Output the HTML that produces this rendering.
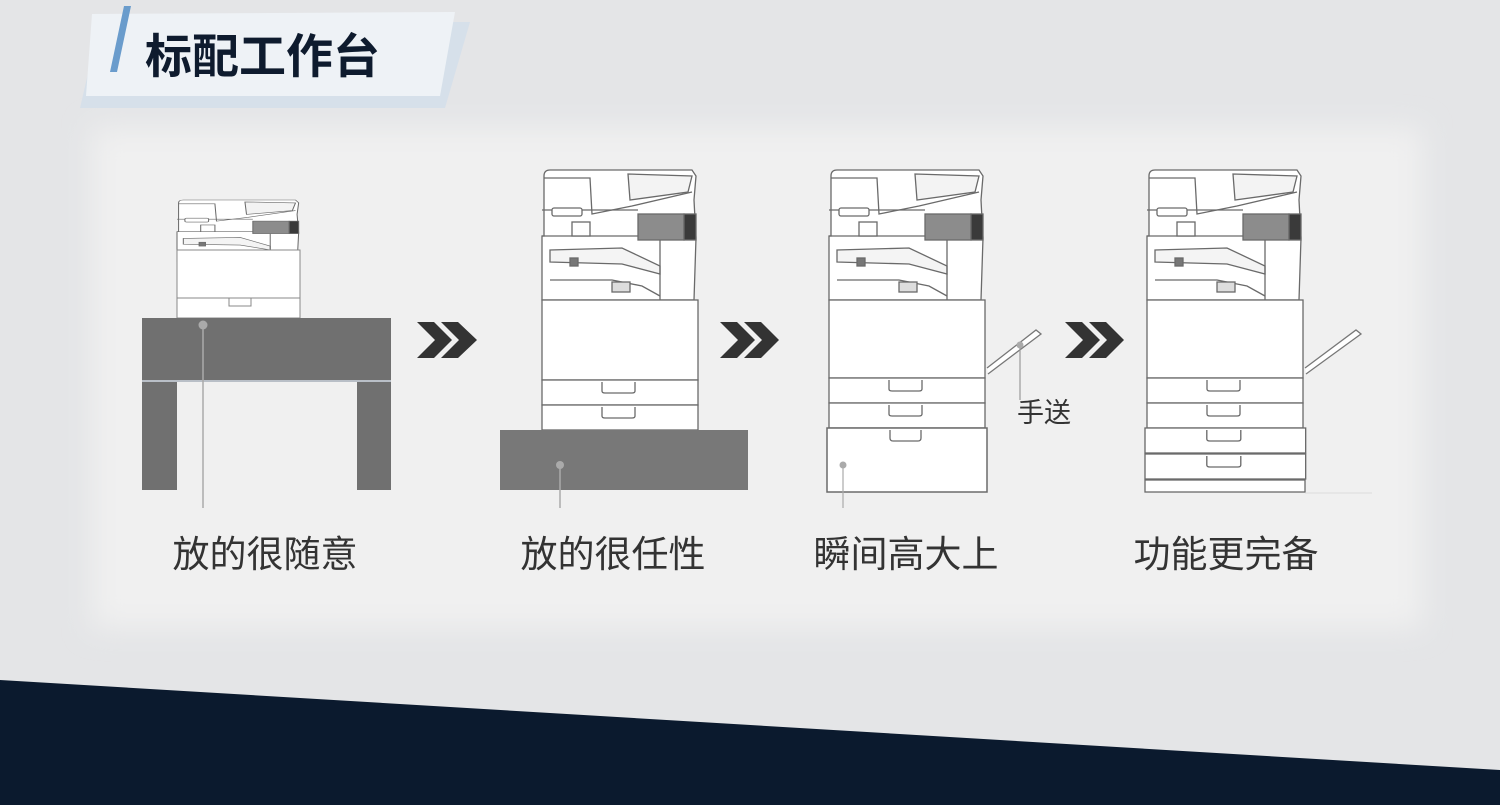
<!DOCTYPE html>
<html><head><meta charset="utf-8"><style>
html,body{margin:0;padding:0;width:1500px;height:805px;overflow:hidden;background:#e4e5e7;}
svg{display:block}
text{font-family:"Liberation Sans","Noto Sans CJK SC",sans-serif;}
</style></head><body>
<svg width="1500" height="805" viewBox="0 0 1500 805" xmlns="http://www.w3.org/2000/svg">
<defs>
<filter id="blur" x="-10%" y="-10%" width="120%" height="120%"><feGaussianBlur stdDeviation="14"/></filter>
<g id="top" fill="#fff" stroke="#6a6a6a" stroke-width="1.3">
  <path d="M2,6 Q2,0 8,0 L150,0 L154,6 L152,30 L154,68 L152,130 L0,130 L0,66 L2,66 Z"/>
  <path d="M2,8 L48,8 L50,44 L90,36 L150,22" fill="none"/>
  <path d="M86,4 L150,6 L146,22 L88,30 Z" fill="#f3f3f3"/>
  <line x1="0" y1="40" x2="96" y2="40"/>
  <rect x="10" y="38" width="30" height="8" rx="2"/>
  <line x1="0" y1="66" x2="154" y2="66"/>
  <rect x="30" y="52" width="18" height="14"/>
  <rect x="96" y="44" width="46" height="26" fill="#8c8c8c"/>
  <rect x="142" y="44" width="12" height="26" fill="#3a3a3a"/>
  <path d="M8,80 L80,78 L118,96 L118,104 L80,94 L8,92 Z" fill="#f4f4f4"/>
  <path d="M8,110 L70,110 L100,116 L118,126" fill="none"/>
  <rect x="28" y="88" width="8" height="8" fill="#777"/>
  <rect x="70" y="112" width="18" height="10" fill="#ddd"/>
  <line x1="118" y1="70" x2="118" y2="130"/>
</g>
<g id="drawer" fill="#fff" stroke="#6a6a6a" stroke-width="1.3">
  <rect x="0" y="0" width="156" height="25"/>
  <path d="M60,2 L60,11 Q60,13 63,13 L90,13 Q93,13 93,11 L93,2" fill="none"/>
</g>
</defs>

<rect x="92" y="128" width="1330" height="500" fill="#f0f0f0" filter="url(#blur)"/>

<polygon points="100,22 470,22 445,108 80,108" fill="#d6e0ea"/>
<polygon points="92,14 455,12 440,96 86,96" fill="#eef2f6"/>
<polygon points="124,6 131,6 117,72 110,72" fill="#6a9ccc"/>
<text x="145" y="73" font-size="47" font-weight="bold" fill="#0e1b2e">标配工作台</text>

<polygon points="0,680 1500,770 1500,805 0,805" fill="#0b1a2e"/>

<g transform="translate(177,200) scale(0.79,0.48)"><use href="#top"/></g>
<rect x="177" y="250" width="123" height="68" fill="#fff" stroke="#888" stroke-width="1"/>
<line x1="177" y1="298" x2="300" y2="298" stroke="#888"/>
<rect x="229" y="298" width="22" height="8" fill="#fff" stroke="#888"/>
<rect x="142" y="318" width="249" height="62" fill="#707070"/>
<rect x="142" y="382" width="35" height="108" fill="#707070"/>
<rect x="357" y="382" width="34" height="108" fill="#707070"/>
<line x1="142" y1="381" x2="391" y2="381" stroke="#b9bfc7" stroke-width="2"/>
<line x1="203" y1="325" x2="203" y2="508" stroke="#aaa" stroke-width="1.5"/>
<circle cx="203" cy="325" r="4.5" fill="#aaa"/>

<use href="#top" transform="translate(542,170)"/>
<rect x="542" y="300" width="156" height="80" fill="#fff" stroke="#6a6a6a" stroke-width="1.3"/>
<use href="#drawer" transform="translate(542,380)"/>
<use href="#drawer" transform="translate(542,405)"/>
<rect x="500" y="430" width="248" height="60" fill="#787878"/>
<line x1="560" y1="465" x2="560" y2="508" stroke="#aaa" stroke-width="1.5"/>
<circle cx="560" cy="465" r="4" fill="#aaa"/>

<use href="#top" transform="translate(829,170)"/>
<rect x="829" y="300" width="156" height="78" fill="#fff" stroke="#6a6a6a" stroke-width="1.3"/>
<use href="#drawer" transform="translate(829,378)"/>
<use href="#drawer" transform="translate(829,403)"/>
<rect x="827" y="428" width="160" height="64" fill="#fff" stroke="#6a6a6a" stroke-width="1.5"/>
<path d="M890,430 L890,438 Q890,441 893,441 L918,441 Q921,441 921,438 L921,430" fill="none" stroke="#6a6a6a" stroke-width="1.3"/>
<path d="M987,368 L1036,330 L1041,334 L988,374" fill="#fff" stroke="#777" stroke-width="1.3"/>
<line x1="1020" y1="345" x2="1020" y2="400" stroke="#999" stroke-width="1.2"/>
<circle cx="1020" cy="345" r="3.5" fill="#aaa"/>
<text x="1017" y="422" font-size="27" fill="#333">手送</text>
<line x1="843" y1="465" x2="843" y2="508" stroke="#aaa" stroke-width="1.2"/>
<circle cx="843" cy="465" r="3.5" fill="#aaa"/>

<use href="#top" transform="translate(1147,170)"/>
<rect x="1147" y="300" width="156" height="78" fill="#fff" stroke="#6a6a6a" stroke-width="1.3"/>
<use href="#drawer" transform="translate(1147,378)"/>
<use href="#drawer" transform="translate(1147,403)"/>
<use href="#drawer" transform="translate(1145,428) scale(1.03,1)"/>
<use href="#drawer" transform="translate(1145,454) scale(1.03,1)"/>
<rect x="1145" y="480" width="160" height="12" fill="#fff" stroke="#6a6a6a" stroke-width="1.3"/>
<line x1="1305" y1="493" x2="1372" y2="493" stroke="#ddd"/>
<path d="M1305,368 L1356,330 L1361,334 L1306,374" fill="#fff" stroke="#777" stroke-width="1.3"/>

<g fill="#333">
<path d="M417,322 L434,322 L452,340 L434,358 L417,358 L435,340 Z"/>
<path d="M441,322 L458,322 L477,340 L458,358 L441,358 L459,340 Z"/>
<path d="M720,322 L737,322 L755,340 L737,358 L720,358 L738,340 Z"/>
<path d="M744,322 L761,322 L779,340 L761,358 L744,358 L762,340 Z"/>
<path d="M1065,322 L1082,322 L1100,340 L1082,358 L1065,358 L1083,340 Z"/>
<path d="M1089,322 L1106,322 L1124,340 L1106,358 L1089,358 L1107,340 Z"/>
</g>

<g font-size="37" fill="#333" text-anchor="middle">
<text x="265" y="567">放的很随意</text>
<text x="613" y="567">放的很任性</text>
<text x="906" y="567">瞬间高大上</text>
<text x="1226" y="567">功能更完备</text>
</g>
</svg>
</body></html>
